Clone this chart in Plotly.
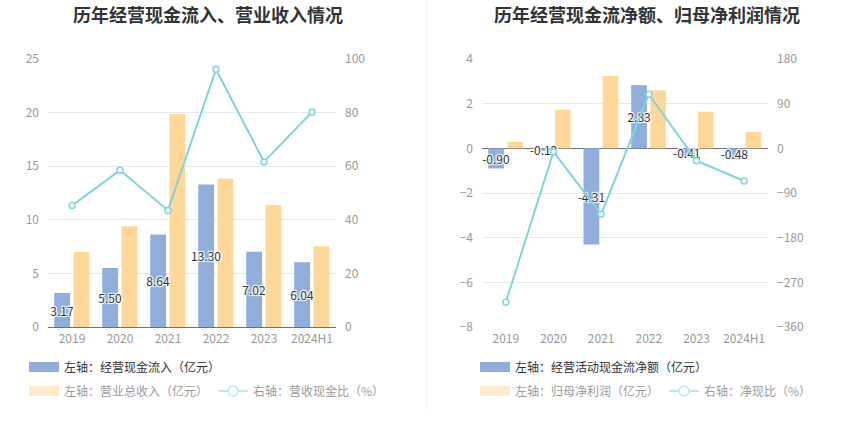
import plotly.graph_objects as go

years = ["2019", "2020", "2021", "2022", "2023", "2024H1"]

# Left chart
cash_inflow = [3.17, 5.50, 8.64, 13.30, 7.02, 6.04]          # 经营现金流入（亿元）
revenue = [7.00, 9.40, 19.86, 13.82, 11.39, 7.53]             # 营业总收入（亿元）
cash_rev_ratio = [45.3, 58.5, 43.5, 96.2, 61.6, 80.2]         # 营收现金比（%）

# Right chart
net_cash_flow = [-0.90, -0.12, -4.31, 2.83, -0.41, -0.48]     # 经营活动现金流净额（亿元）
net_profit = [0.29, 1.73, 3.24, 2.60, 1.64, 0.73]             # 归母净利润（亿元）
net_cash_ratio = [-310.3, -7.0, -133.0, 108.8, -25.0, -65.8]  # 净现比（%）

BLUE = "#8FAEDC"
ORANGE = "#FFD899"
CYAN = "#7FD5D8"
FONT = "Noto Sans CJK SC"
SHADOW = "1px 1px 1px #fff, -1px -1px 1px #fff, 1px -1px 1px #fff, -1px 1px 1px #fff, 0 0 2px #fff"

W, H = 850, 437


def X(px):
    return px / W


def Y(py):
    return 1 - py / H


fig = go.Figure()


def add_group(xa, ya, ya2, bars1, bars2, line, name1, name2, name3, leg1, leg2):
    # orange first so that the blue bar labels sit on top
    fig.add_trace(go.Bar(
        x=years, y=bars2, name=name2, marker=dict(color=ORANGE, line=dict(width=0)),
        xaxis=xa, yaxis=ya, showlegend=False, offset=0.03, width=0.33,
    ))
    fig.add_trace(go.Bar(
        x=years, y=bars1, name=name1, marker=dict(color=BLUE, line=dict(width=0)),
        xaxis=xa, yaxis=ya, showlegend=False, offset=-0.37, width=0.33,
        text=[f"{v:.2f}" for v in bars1], textposition="inside",
        insidetextanchor="middle", textangle=0, constraintext="none",
        textfont=dict(color="#333", size=12, family=FONT, shadow=SHADOW),
        cliponaxis=False,
    ))
    fig.add_trace(go.Scatter(
        x=years, y=line, name=name3, mode="lines+markers",
        line=dict(color=CYAN, width=2),
        marker=dict(symbol="circle", size=6, color="white", line=dict(color=CYAN, width=1.5)),
        xaxis=xa, yaxis=ya2, showlegend=False,
    ))
    # legend entries
    fig.add_trace(go.Scatter(x=[None], y=[None], name=name1, mode="lines",
                             line=dict(color=BLUE, width=13),
                             xaxis=xa, yaxis=ya, legend=leg1, showlegend=True))
    fig.add_trace(go.Scatter(x=[None], y=[None], name=name2, mode="lines",
                             line=dict(color=ORANGE, width=13),
                             xaxis=xa, yaxis=ya, legend=leg2, showlegend=True,
                             visible="legendonly"))
    fig.add_trace(go.Scatter(x=[None], y=[None], name=name3, mode="lines+markers",
                             line=dict(color=CYAN, width=2),
                             marker=dict(symbol="circle", size=10, color="white",
                                         line=dict(color=CYAN, width=1.5)),
                             xaxis=xa, yaxis=ya2, legend=leg2, showlegend=True,
                             visible="legendonly"))


add_group("x", "y", "y2", cash_inflow, revenue, cash_rev_ratio,
          "左轴：经营现金流入（亿元）", "左轴：营业总收入（亿元）", "右轴：营收现金比（%）",
          "legend", "legend2")
add_group("x2", "y3", "y4", net_cash_flow, net_profit, net_cash_ratio,
          "左轴：经营活动现金流净额（亿元）", "左轴：归母净利润（亿元）", "右轴：净现比（%）",
          "legend3", "legend4")

ydom = [Y(327), Y(59)]
axis_font = dict(color="#999", size=12, family=FONT)
GRID = "#E3E8F2"
ZERO = "#6E7079"

common_x = dict(type="category", showgrid=False, showline=False, ticks="",
                tickfont=axis_font, fixedrange=True, automargin=False,
                ticklabelstandoff=3)
common_y = dict(tickfont=axis_font, ticklabelstandoff=8, ticks="", automargin=False,
                showline=False)
fig.update_layout(
    template="none",
    width=W, height=H, margin=dict(l=0, r=0, t=0, b=0, pad=0, autoexpand=False),
    paper_bgcolor="white", plot_bgcolor="white",
    font=dict(family=FONT),
    showlegend=True,
    barmode="overlay",
    hovermode=False,
    xaxis=dict(domain=[X(48), X(336)], anchor="y", **common_x),
    xaxis2=dict(domain=[X(482), X(768)], anchor="y3", **common_x),
    yaxis=dict(domain=ydom, anchor="x", range=[0, 25], dtick=5, showgrid=True,
               gridcolor=GRID, zeroline=True, zerolinecolor=ZERO, zerolinewidth=1,
               **common_y),
    yaxis2=dict(domain=ydom, anchor="x", overlaying="y", side="right", range=[0, 100],
                dtick=20, showgrid=False, zeroline=False, **common_y),
    yaxis3=dict(domain=ydom, anchor="x2", range=[-8, 4], dtick=2, showgrid=True,
                gridcolor=GRID, zeroline=True, zerolinecolor=ZERO, zerolinewidth=1,
                **common_y),
    yaxis4=dict(domain=ydom, anchor="x2", overlaying="y3", side="right", range=[-360, 180],
                dtick=90, showgrid=False, zeroline=False, **common_y),
)

leg_common = dict(orientation="h", xanchor="left", yanchor="middle",
                  bgcolor="rgba(0,0,0,0)", borderwidth=0, visible=True,
                  itemclick=False, itemdoubleclick=False,
                  font=dict(size=12, color="#333", family=FONT))
fig.update_layout(
    legend=dict(x=X(24), y=Y(367), **leg_common),
    legend2=dict(x=X(24), y=Y(391), **leg_common),
    legend3=dict(x=X(475), y=Y(367), **leg_common),
    legend4=dict(x=X(475), y=Y(391), **leg_common),
)

for xc, txt in [(208, "历年经营现金流入、营业收入情况"), (647, "历年经营现金流净额、归母净利润情况")]:
    fig.add_annotation(x=X(xc), y=Y(14), xref="paper", yref="paper",
                       xanchor="center", yanchor="middle",
                       text=f"<b>{txt}</b>", showarrow=False,
                       font=dict(size=18, color="#333", family=FONT))

fig.add_shape(type="line", xref="paper", yref="paper", x0=X(427), x1=X(427),
              y0=Y(410), y1=Y(0), line=dict(color="#EEEEEE", width=1))

fig.write_html("out.html", config={"displayModeBar": False},
               post_script="document.body.style.margin='0';")
